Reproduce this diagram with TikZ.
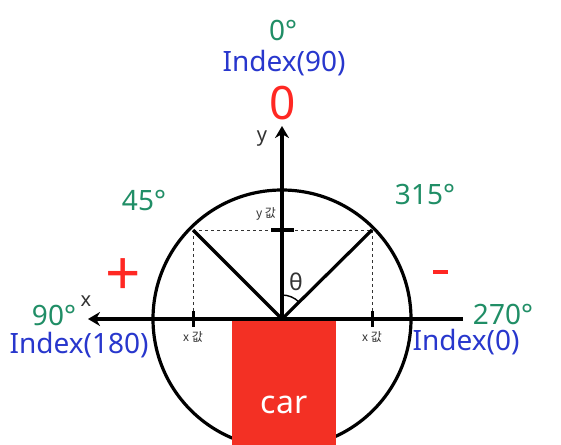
\documentclass[tikz,border=0pt]{standalone}
\usepackage{fontspec}
\setmainfont{Noto Sans}
\newfontfamily\krfont{Noto Sans CJK KR}
\usetikzlibrary{arrows.meta}
\definecolor{dgreen}{RGB}{32,142,102}
\definecolor{iblue}{RGB}{40,55,205}
\definecolor{bred}{RGB}{255,40,35}
\definecolor{carred}{RGB}{243,48,36}
\begin{document}
\begin{tikzpicture}[x=1pt,y=-1pt,
  thick line/.style={line width=3.2pt,black},
  dashline/.style={dashed,line width=1pt,black!80},
  deg/.style={text=dgreen,font=\fontsize{28}{28}\selectfont,inner sep=0pt},
  idx/.style={text=iblue,font=\fontsize{28}{28}\selectfont,inner sep=0pt},
  axl/.style={text=black!80,font=\fontsize{20}{20}\selectfont,inner sep=0pt},
  val/.style={text=black!80,font=\krfont\fontsize{12}{12}\selectfont,inner sep=0pt},
  sign/.style={text=bred,inner sep=0pt}]
\path[use as bounding box] (0,0) rectangle (561,444);
\clip (0,0) rectangle (561,444);
\fill[white] (0,0) rectangle (561,444);
\coordinate (o) at (282,319);
\coordinate (L) at (88,319);
\coordinate (R) at (463,319);
\coordinate (T) at (282,126);
\coordinate (p1) at (193,230);
\coordinate (p2) at (372,230);
\coordinate (q1) at (193,319);
\coordinate (q2) at (372,319);
% circle
\draw[thick line] (o) circle[radius=129];
% car
\node[fill=carred,minimum width=104pt,minimum height=126pt,inner sep=0pt,anchor=north] (car) at (284,320) {};
\node[text=white,font=\fontsize{32}{32}\selectfont] (cartxt) at (284,405) {car};
% dashed
\draw[dashline] (p1) -- (p2);
\draw[dashline] (p1) -- (q1);
\draw[dashline] (p2) -- (q2);
% axes
\draw[thick line,-{Stealth[length=12pt,width=14pt]}] (R) -- (L);
\draw[thick line,-{Stealth[length=12pt,width=14pt]}] (o) -- (T);
% diagonals
\draw[thick line] (o) -- (p1);
\draw[thick line] (o) -- (p2);
% ticks
\draw[line width=3.4pt] (271,230) -- (294,230);
\draw[line width=3pt] (193,311) -- (193,327);
\draw[line width=3pt] (372,311) -- (372,327);
% angle
\draw[line width=1.4pt] (282,295) arc[start angle=-90,end angle=-45,radius=24];
\node[axl,font=\fontsize{23}{23}\selectfont] (th) at (296,282) {θ};
% labels
\node[deg] (d0) at (283,30) {0°};
\node[idx] (i90) at (284,63) {Index(90)};
\node[text=bred,font=\fontsize{46}{46}\selectfont,inner sep=0pt] (z) at (283,103) {0};
\node[axl] (ylab) at (262,139) {y};
\node[axl] (xlab) at (86,301) {x};
\node[deg] (d45) at (144,201) {45°};
\node[deg] (d315) at (425,195) {315°};
\node[sign] (plus) at (123,277) {\fontsize{62}{62}\selectfont +};
\node[fill=bred,minimum width=15pt,minimum height=4.5pt,inner sep=0pt] (minus) at (440,272) {};
\node[deg] (d90) at (54,315) {90°};
\node[idx] (i180) at (79,345) {Index(180)};
\node[deg] (d270) at (503,314) {270°};
\node[idx] (i0) at (466,342) {Index(0)};
\node[val] (yv) at (266,214) {y 값};
\node[val] (xv1) at (193,337) {x 값};
\node[val] (xv2) at (372,337) {x 값};
\end{tikzpicture}
\end{document}
